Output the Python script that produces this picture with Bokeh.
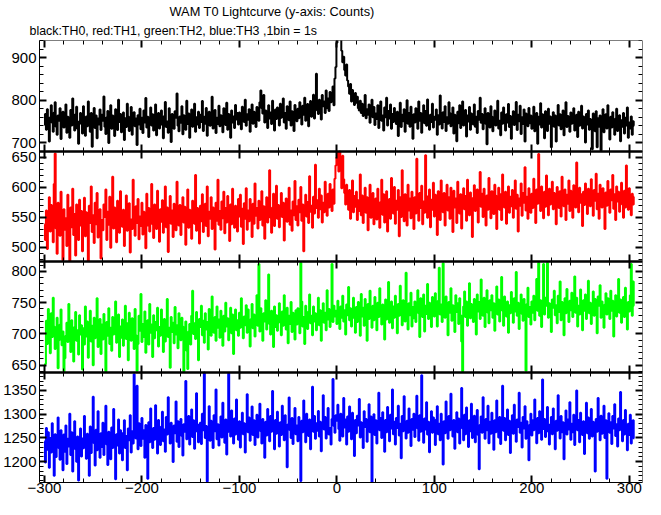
import math
from bokeh.plotting import figure
from bokeh.models import (Range1d, LinearAxis, SingleIntervalTicker, FixedTicker, Title,
                          CustomJSTickFormatter)
from bokeh.embed import file_html
from bokeh.resources import INLINE

# ---------------- data (counts per 1 s bin, first bin at t = -300 s) ----------------
t_start = -300
bin_s = 1

th0_black = [
    742, 768, 731, 779, 755, 703, 760, 788, 747, 726, 771, 795, 738, 719, 764, 752, 781, 709, 745, 773,
    736, 758, 790, 724, 761, 749, 712, 777, 741, 804, 756, 729, 767, 785, 733, 698, 751, 770, 744, 722,
    786, 753, 717, 762, 739, 797, 748, 726, 770, 691, 758, 782, 735, 764, 711, 757, 743, 778, 730, 766,
    752, 809, 738, 721, 760, 775, 700, 747, 788, 733, 764, 741, 716, 779, 755, 730, 801, 749, 768, 725,
    744, 771, 707, 758, 737, 792, 762, 728, 750, 784, 719, 746, 772, 739, 757, 695, 765, 743, 780, 732,
    759, 723, 776, 748, 805, 736, 761, 714, 754, 783, 741, 767, 729, 752, 790, 718, 745, 770, 734, 758,
    776, 742, 711, 763, 796, 737, 750, 724, 781, 756, 702, 768, 745, 733, 774, 759, 816, 740, 727, 762,
    747, 786, 720, 765, 754, 731, 799, 744, 769, 712, 757, 778, 738, 751, 792, 726, 760, 743, 773, 735,
    766, 749, 798, 728, 761, 745, 782, 717, 756, 773, 740, 763, 808, 734, 752, 777, 723, 759, 744, 787,
    739, 765, 750, 725, 781, 757, 742, 794, 731, 768, 753, 712, 776, 748, 762, 735, 789, 755, 770, 743,
    771, 758, 732, 785, 763, 749, 801, 740, 767, 754, 779, 726, 762, 790, 745, 773, 758, 737, 784, 766,
    752, 795, 823, 781, 769, 812, 748, 776, 760, 735, 788, 757, 771, 744, 799, 763, 729, 778, 756, 783,
    767, 741, 792, 759, 776, 804, 748, 770, 733, 786, 762, 753, 797, 741, 774, 760, 728, 789, 765, 751,
    780, 758, 795, 771, 743, 787, 766, 806, 752, 778, 791, 739, 772, 798, 761, 784, 813, 757, 776, 862,
    790, 768, 801, 779, 755, 812, 786, 797, 770, 823, 781, 804, 775, 819, 795, 807, 832, 788, 851, 878,
    935, 968, 1005, 987, 952, 916, 889, 902, 871, 858, 884, 846, 832,
    815, 838, 797, 824, 806, 789, 817, 794,
    808, 781, 776, 799, 770, 792, 763, 785, 812, 758, 779, 766, 790, 747, 773, 801, 760, 784, 742, 769,
    756, 788, 735, 771, 797, 752, 764, 729, 783, 760, 806, 741, 775, 757, 790, 733, 768, 749, 782, 762,
    744, 773, 716, 758, 794, 737, 766, 751, 779, 726, 761, 800, 745, 770, 738, 785, 754, 710, 767, 748,
    781, 759, 733, 797, 752, 770, 724, 763, 788, 746, 775, 740, 802, 757, 731, 766, 749, 792, 736, 761,
    754, 778, 719, 765, 743, 811, 758, 734, 772, 749, 786, 728, 760, 745, 795, 770, 739, 757, 783, 722,
    766, 751, 704, 773, 746, 788, 735, 762, 797, 741, 758, 777, 715, 764, 750, 784, 731, 769, 756, 743,
    790, 738, 761, 723, 775, 754, 806, 747, 768, 732, 759, 781, 744, 697, 770, 753, 736, 786, 762, 727,
    757, 776, 741, 765, 799, 734, 752, 718, 771, 745, 783, 760, 729, 767, 748, 791, 737, 763, 710, 755,
    774, 742, 758, 796, 730, 766, 751, 787, 721, 760, 744, 778, 703, 769, 755, 739, 782, 746, 764, 733,
    759, 785, 727, 752, 770, 698, 761, 743, 793, 736, 767, 749, 711, 774, 757, 728, 780, 745, 762, 690,
    750, 772, 738, 764, 703, 756, 789, 741, 767, 732, 759, 776, 718, 754, 795, 737, 763, 748, 726, 771,
    745, 760, 781, 729, 752, 766, 714, 773, 740, 758, 787, 734, 762, 749, 701, 768, 743, 776, 731, 756,
    742, 685, 769, 751, 727, 774, 690, 758, 738, 764, 682, 747, 779, 725, 753, 767, 734, 788, 744, 708,
    761, 736, 772, 749, 719, 757, 780, 728, 746, 765, 704, 753, 738, 770, 722, 759, 741, 783, 712, 748,
    734, 762, 719, 751, 740,
]

th1_red = [
    538, 512, 561, 497, 549, 583, 526, 570, 545, 508, 605, 656, 531, 489, 574, 552, 519, 592, 540, 478,
    563, 529, 548, 502, 587, 541, 477, 566, 533, 597, 520, 555, 486, 571, 544, 512, 579, 536, 560, 493,
    547, 582, 518, 558, 531, 477, 569, 540, 601, 525, 553, 507, 574, 538, 590, 516, 549, 563, 481, 545,
    528, 571, 550, 596, 512, 559, 537, 584, 499, 552, 617, 531, 566, 545, 508, 577, 541, 524, 593, 556,
    534, 562, 502, 548, 586, 527, 554, 573, 491, 546, 530, 612, 557, 519, 568, 540, 580, 513, 551, 535,
    574, 521, 559, 543, 498, 589, 536, 565, 526, 552, 605, 538, 515, 571, 548, 530, 594, 556, 509, 563,
    542, 578, 524, 557, 601, 533, 566, 492, 549, 585, 539, 561, 517, 572, 545, 528, 609, 553, 536, 570,
    520, 558, 583, 541, 567, 504, 550, 596, 532, 562, 546, 514, 577, 554, 539, 620, 527, 565, 548, 506,
    569, 543, 588, 525, 556, 572, 535, 601, 518, 559, 547, 583, 530, 566, 551, 496, 574, 544, 612, 537,
    560, 529, 576, 548, 592, 523, 565, 541, 585, 554, 510, 571, 538, 597, 557, 532, 569, 546, 526, 580,
    551, 587, 534, 564, 505, 573, 547, 598, 529, 561, 543, 580, 556, 517, 572, 539, 606, 552, 565, 531,
    577, 545, 560, 593, 536, 568, 514, 555, 583, 541, 571, 628, 549, 524, 566, 589, 535, 558, 602, 547,
    570, 533, 562, 590, 550, 574, 511, 557, 581, 542, 566, 599, 537, 561, 527, 576, 553, 610, 545, 568,
    536, 579, 558, 600, 544, 571, 493, 563, 587, 551, 575, 540, 618, 559, 569, 532, 584, 556, 637, 565,
    578, 549, 597, 563, 586, 541, 574, 558, 609, 570, 552, 589, 566, 605, 581, 560, 596, 572, 614, 636,
    649, 658, 626, 659, 640, 598, 652, 613, 590, 571, 604, 583, 562, 595, 547, 576, 611, 558, 585, 567,
    592, 545, 578, 560, 621, 553, 586, 540, 572, 599, 557, 583, 528, 566, 604, 549, 575, 590, 538, 568,
    581, 546, 597, 560, 532, 575, 612, 554, 588, 541, 569, 593, 526, 563, 580, 547, 615, 571, 556, 600,
    539, 577, 562, 595, 518, 583, 550, 628, 566, 543, 588, 574, 536, 604, 561, 581, 548, 592, 569, 530,
    583, 556, 647, 573, 544, 590, 565, 602, 538, 576, 557, 653, 585, 549, 570, 596, 533, 579, 562, 607,
    551, 587, 574, 520, 593, 568, 545, 611, 579, 558, 590, 536, 572, 604, 561, 583, 547, 599, 570, 525,
    594, 566, 581, 540, 609, 572, 556, 588, 531, 577, 598, 563, 585, 544, 612, 570, 553, 591, 575, 517,
    582, 603, 560, 578, 596, 541, 570, 625, 567, 589, 550, 597, 574, 536, 586, 562, 615, 579, 548, 593,
    571, 555, 604, 586, 530, 577, 599, 562, 588, 545, 621, 580, 566, 592, 539, 575, 601, 557, 584, 568,
    595, 549, 578, 611, 564, 587, 526, 581, 569, 606, 552, 590, 574, 633, 561, 584, 547, 598, 576, 557,
    589, 565, 614, 579, 540, 596, 572, 655, 586, 560, 601, 575, 548, 592, 567, 619, 583, 553, 597, 571,
    584, 609, 563, 590, 574, 538, 600, 579, 565, 593, 551, 617, 582, 568, 596, 545, 587, 572, 611, 560,
    594, 577, 549, 603, 585, 566, 641, 580, 558, 599, 574, 588, 535, 592, 570, 606, 579, 555, 597, 583,
    568, 613, 586, 552, 595, 577, 622, 563, 589, 547, 604, 581, 566, 598, 574, 530, 591, 569, 610, 585,
    557, 596, 578, 620, 564, 588, 545, 601, 576, 592, 559, 582, 607, 571, 549, 594, 566, 636, 580, 562,
    598, 575, 553, 589, 571, 584,
]

th2_green = [
    650, 652, 721, 684, 740, 707, 669, 733, 695, 758, 712, 676, 701, 726, 645, 690, 715, 739, 682, 704,
    640, 661, 697, 718, 687, 748, 703, 671, 722, 694, 656, 711, 735, 689, 706, 667, 730, 699, 714, 643,
    709, 683, 744, 696, 720, 662, 702, 737, 688, 713, 650, 726, 693, 708, 757, 679, 700, 724, 668, 715,
    691, 732, 705, 640, 719, 697, 741, 684, 710, 673, 727, 699, 716, 752, 686, 704, 731, 663, 712, 694,
    723, 681, 707, 745, 692, 717, 658, 734, 701, 689, 725, 711, 676, 740, 698, 641, 684, 729, 705, 764,
    687, 716, 695, 736, 670, 708, 722, 683, 748, 702, 715, 663, 730, 693, 719, 706, 742, 680, 711, 697,
    739, 701, 671, 724, 688, 713, 756, 695, 710, 646, 727, 703, 718, 685, 743, 699, 714, 677, 733, 708,
    690, 726, 712, 640, 696, 720, 673, 644, 704, 716, 683, 729, 769, 700, 717, 692, 735, 709, 658, 724,
    711, 745, 698, 721, 686, 733, 707, 719, 675, 740, 713, 697, 760, 718, 702, 727, 689, 744, 710, 723,
    694, 737, 716, 681, 729, 704, 750, 712, 725, 690, 718, 742, 701, 731, 668, 715, 739, 706, 722, 697,
    734, 710, 757, 720, 693, 728, 714, 746, 702, 739, 717, 680, 724, 748, 709, 731, 696, 719, 762, 713,
    812, 704, 741, 715, 689, 733, 720, 754, 707, 728, 795, 716, 699, 737, 722, 679, 744, 711, 730, 705,
    718, 749, 726, 698, 736, 713, 762, 721, 707, 742, 685, 729, 716, 751, 703, 734, 724, 691, 738, 715,
    741, 719, 701, 814, 752, 712, 727, 684, 745, 723, 708, 736, 763, 717, 729, 698, 744, 720, 733, 706,
    725, 758, 714, 738, 689, 729, 749, 718, 734, 706, 770, 723, 740, 711, 732, 812, 719, 745, 728, 737,
    716, 753, 733, 708, 744, 726, 761, 720, 738, 699, 747, 730, 775, 722, 741, 712, 734, 758, 725, 702,
    743, 719, 751, 735, 697, 764, 728, 742, 713, 756, 731, 689, 748, 724, 769, 737, 710, 745, 722, 759,
    734, 706, 750, 727, 773, 739, 715, 747, 730, 691, 755, 723, 741, 783, 718, 736, 752, 709, 744, 726,
    761, 732, 701, 748, 729, 777, 740, 714, 754, 735, 720, 798, 738, 707, 749, 730, 766, 712, 743, 725,
    752, 719, 738, 770, 733, 695, 757, 741, 727, 763, 704, 745, 732, 780, 724, 750, 736, 711, 759, 739,
    728, 765, 744, 712, 753, 806, 731, 747, 719, 813, 742, 726, 760, 737, 698, 751, 734, 773, 721, 746,
    739, 703, 762, 735, 749, 716, 757, 730, 688, 640, 744, 768, 727, 752, 713, 740, 781, 725, 748, 733,
    719, 756, 741, 699, 763, 736, 751, 724, 787, 745, 729, 758, 711, 742, 770, 734, 717, 754, 738, 762,
    726, 749, 705, 739, 776, 731, 755, 720, 744, 791, 737, 713, 760, 742, 728, 752, 702, 746, 733, 767,
    741, 718, 757, 736, 799, 729, 750, 708, 745, 763, 732, 721, 756, 739, 641, 748, 774, 727, 743, 715,
    752, 734, 761, 722, 747, 788, 737, 814, 729, 754, 711, 740, 812, 731, 758, 745, 814, 726, 749, 738,
    703, 755, 742, 769, 730, 746, 717, 761, 735, 784, 722, 751, 740, 698, 757, 733, 772, 744, 719, 753,
    738, 766, 727, 749, 792, 734, 758, 712, 745, 731, 771, 740, 706, 754, 737, 763, 724, 748, 785, 733,
    750, 716, 743, 768, 729, 756, 739, 701, 760, 745, 778, 726, 752, 735, 710, 747, 765, 731, 757, 742,
    724, 769, 737, 753, 696, 741, 762, 728, 749, 788, 734, 755, 718, 743, 759, 727, 774, 739, 707, 751,
    736, 762, 812, 729, 784, 745,
]

th3_blue = [
    1243, 1198, 1271, 1225, 1262, 1187, 1250, 1219, 1281, 1236, 1170, 1258, 1210, 1247, 1293, 1228, 1204, 1266, 1239, 1182,
    1257, 1221, 1276, 1195, 1248, 1232, 1301, 1214, 1262, 1179, 1240, 1285, 1226, 1200, 1253, 1160, 1237, 1270, 1211, 1249,
    1228, 1296, 1245, 1206, 1259, 1233, 1170, 1274, 1218, 1251, 1337, 1239, 1192, 1267, 1224, 1306, 1246, 1208, 1260, 1231,
    1282, 1214, 1249, 1318, 1236, 1193, 1263, 1242, 1205, 1272, 1229, 1311, 1251, 1163, 1258, 1234, 1289, 1217, 1266, 1240,
    1203, 1261, 1287, 1229, 1254, 1182, 1270, 1245, 1298, 1219, 1264, 1238, 1384, 1275, 1249, 1360, 1226, 1281, 1257, 1233,
    1292, 1248, 1266, 1208, 1277, 1255, 1164, 1283, 1241, 1312, 1262, 1229, 1271, 1246, 1319, 1253, 1217, 1288, 1260, 1235,
    1274, 1305, 1243, 1268, 1221, 1294, 1257, 1336, 1270, 1238, 1282, 1249, 1199, 1276, 1260, 1327, 1242, 1285, 1231, 1266,
    1290, 1254, 1213, 1279, 1263, 1370, 1247, 1272, 1296, 1236, 1268, 1310, 1252, 1287, 1227, 1263, 1344, 1279, 1241, 1258,
    1282, 1237, 1301, 1266, 1388, 1250, 1275, 1158, 1271, 1317, 1244, 1286, 1259, 1229, 1298, 1264, 1352, 1247, 1279, 1234,
    1268, 1295, 1251, 1324, 1273, 1240, 1289, 1215, 1262, 1386, 1280, 1253, 1308, 1269, 1238, 1291, 1257, 1331, 1274, 1246,
    1285, 1230, 1267, 1303, 1258, 1281, 1219, 1276, 1342, 1262, 1293, 1244, 1273, 1316, 1256, 1287, 1235, 1270, 1299, 1251,
    1275, 1322, 1264, 1238, 1290, 1269, 1208, 1284, 1255, 1311, 1277, 1243, 1296, 1263, 1349, 1272, 1226, 1288, 1259, 1305,
    1267, 1232, 1283, 1256, 1318, 1274, 1245, 1298, 1261, 1188, 1279, 1335, 1266, 1250, 1292, 1237, 1285, 1313, 1258, 1276,
    1243, 1294, 1270, 1159, 1286, 1262, 1329, 1278, 1241, 1301, 1267, 1254, 1289, 1226, 1273, 1358, 1263, 1296, 1248, 1281,
    1265, 1307, 1253, 1284, 1222, 1276, 1340, 1268, 1294, 1249, 1282, 1313, 1257, 1271, 1236, 1290, 1374, 1275, 1261, 1298,
    1286, 1320, 1269, 1244, 1301, 1278, 1253, 1334, 1272, 1289, 1236, 1295, 1263, 1316, 1280, 1247, 1303, 1274, 1212, 1288,
    1260, 1297, 1276, 1332, 1251, 1283, 1268, 1229, 1306, 1273, 1290, 1242, 1281, 1321, 1262, 1295, 1157, 1274, 1300, 1256,
    1287, 1238, 1279, 1345, 1266, 1292, 1250, 1304, 1275, 1221, 1288, 1262, 1315, 1277, 1243, 1299, 1270, 1352, 1258, 1284,
    1236, 1292, 1271, 1318, 1255, 1280, 1207, 1296, 1264, 1338, 1278, 1249, 1286, 1261, 1312, 1274, 1233, 1290, 1267, 1301,
    1252, 1283, 1339, 1270, 1244, 1298, 1263, 1382, 1279, 1240, 1291, 1268, 1325, 1257, 1284, 1220, 1276, 1306, 1261, 1293,
    1272, 1235, 1289, 1317, 1258, 1280, 1245, 1301, 1269, 1194, 1285, 1260, 1327, 1274, 1248, 1296, 1266, 1343, 1279, 1253,
    1288, 1227, 1276, 1304, 1262, 1291, 1238, 1283, 1355, 1270, 1245, 1299, 1258, 1314, 1275, 1231, 1287, 1264, 1322, 1250,
    1280, 1297, 1241, 1273, 1309, 1256, 1184, 1278, 1295, 1261, 1336, 1270, 1248, 1290, 1266, 1318, 1239, 1284, 1259, 1303,
    1268, 1225, 1287, 1262, 1329, 1276, 1251, 1294, 1237, 1281, 1360, 1265, 1292, 1245, 1274, 1310, 1256, 1286, 1218, 1271,
    1298, 1259, 1320, 1267, 1242, 1289, 1273, 1345, 1261, 1282, 1230, 1294, 1270, 1317, 1248, 1285, 1264, 1203, 1278, 1301,
    1255, 1287, 1266, 1331, 1274, 1239, 1292, 1260, 1306, 1281, 1246, 1373, 1269, 1290, 1252, 1285, 1315, 1263, 1236, 1279,
    1294, 1258, 1312, 1271, 1226, 1286, 1265, 1340, 1277, 1249, 1296, 1262, 1283, 1205, 1272, 1308, 1257, 1289, 1268, 1325,
    1246, 1280, 1262, 1299, 1235, 1274, 1350, 1266, 1288, 1241, 1303, 1271, 1256, 1285, 1216, 1279, 1324, 1260, 1293, 1248,
    1276, 1311, 1253, 1284, 1268, 1179, 1290, 1263, 1334, 1272, 1245, 1297, 1259, 1281, 1318, 1250, 1287, 1164, 1275, 1302,
    1261, 1283, 1237, 1296, 1270, 1321, 1254, 1279, 1232, 1291, 1266, 1347, 1274, 1243, 1288, 1257, 1309, 1269, 1224, 1280,
    1256, 1299, 1238, 1271, 1287, 1249,
]

# panel y-ranges (counts) and major tick spacing, top to bottom
panel_names = ["th0", "th1", "th2", "th3"]
panel_colors = ["black", "#ff0000", "#00ff00", "#0000ff"]
panel_lo = [681, 476, 639, 1156]
panel_hi = [940, 660, 816, 1389]
panel_tick = [100, 50, 50, 50]
panel_values = [th0_black, th1_red, th2_green, th3_blue]

x_tick_values = [-300, -200, -100, 0, 100, 200, 300]
x_tick_labels = ["\u2212300", "\u2212200", "\u2212100", "0", "100", "200", "300"]

title_text = "WAM T0 Lightcurve (y-axis: Counts)"
subtitle_text = "black:TH0, red:TH1, green:TH2, blue:TH3 ,1bin = 1s"

# ---------------- layout / style ----------------
FONT = "Liberation Sans"
X_LO, X_HI = -305.1, 313.5
N = len(panel_names)

p = figure(width=645, height=499,
           x_range=Range1d(X_LO, X_HI), y_range=Range1d(0, N),
           x_axis_location=None, y_axis_location=None,
           output_backend="svg", toolbar_location=None,
           min_border=0, min_border_left=37, min_border_right=3,
           min_border_top=38, min_border_bottom=17,
           background_fill_color="white", border_fill_color="white")
p.outline_line_color = None
p.grid.visible = False

# each panel gets its own y-range, stretched so that it fills its own band of the frame
extra = {}
for i, name in enumerate(panel_names):
    k = N - 1 - i
    span = panel_hi[i] - panel_lo[i]
    extra[name] = Range1d(panel_lo[i] - k * span, panel_hi[i] + (N - 1 - k) * span)
p.extra_y_ranges = extra


def style_axis(ax, show_labels, line_width=1):
    ax.axis_line_color = "black"
    ax.axis_line_width = line_width
    ax.major_tick_in = 7
    ax.major_tick_out = 0
    ax.minor_tick_in = 4
    ax.minor_tick_out = 0
    ax.major_tick_line_color = "black"
    ax.minor_tick_line_color = "black"
    ax.major_tick_line_width = 2
    ax.minor_tick_line_width = 1
    if show_labels:
        ax.major_label_text_font = FONT
        ax.major_label_text_font_size = "15px"
        ax.major_label_text_color = "black"
        ax.major_label_standoff = 3
    else:
        ax.formatter = CustomJSTickFormatter(code="return ''")
        ax.major_label_text_font_size = "0px"
        ax.major_label_standoff = 0


# left axis: every panel's count ticks, mapped into the panel's band of the frame
major_pos, minor_pos, left_labels = [], [], {}
for i, name in enumerate(panel_names):
    k = N - 1 - i
    lo, hi, st = panel_lo[i], panel_hi[i], panel_tick[i]
    span = hi - lo
    v = math.ceil(lo / st) * st
    while v <= hi:
        pos = k + (v - lo) / span
        major_pos.append(pos)
        left_labels[pos] = str(v)
        v += st
    mst = st // 5
    v = math.ceil(lo / mst) * mst
    while v <= hi:
        minor_pos.append(k + (v - lo) / span)
        v += mst

left = LinearAxis(ticker=FixedTicker(ticks=major_pos, minor_ticks=minor_pos))
style_axis(left, True)
left.major_label_overrides = left_labels
p.add_layout(left, "left")

for i, name in enumerate(panel_names):
    vals = panel_values[i]
    time = [t_start + j * bin_s for j in range(len(vals))]
    p.step(time, vals, mode="center", line_color=panel_colors[i], line_width=2,
           y_range_name=name)

    right = LinearAxis(y_range_name=name, fixed_location=X_HI,
                       bounds=(panel_lo[i], panel_hi[i]),
                       ticker=SingleIntervalTicker(interval=panel_tick[i], num_minor_ticks=5))
    style_axis(right, False)
    p.add_layout(right, "right")

# x axes: top edge, both sides of every panel boundary, and the labelled bottom axis
for b in range(1, N + 1):
    lw = 1 if b == N else 2
    top = LinearAxis(fixed_location=b, ticker=SingleIntervalTicker(interval=100, num_minor_ticks=5))
    style_axis(top, False, lw)
    p.add_layout(top, "above")
    if b < N:
        bot = LinearAxis(fixed_location=b, ticker=SingleIntervalTicker(interval=100, num_minor_ticks=5))
        style_axis(bot, False, lw)
        p.add_layout(bot, "below")

bottom = LinearAxis(ticker=SingleIntervalTicker(interval=100, num_minor_ticks=5))
style_axis(bottom, True)
bottom.major_label_overrides = dict(zip(x_tick_values, x_tick_labels))
bottom.major_label_standoff = 0
p.add_layout(bottom, "below")

p.add_layout(Title(text=subtitle_text, align="left", offset=-10, standoff=5,
                   text_font=FONT, text_font_size="12.4px", text_font_style="normal",
                   text_color="black"), "above")
p.add_layout(Title(text=title_text, align="left", offset=130, standoff=2,
                   text_font=FONT, text_font_size="12.8px", text_font_style="normal",
                   text_color="black"), "above")

open("out.html", "w").write(file_html(p, INLINE))
